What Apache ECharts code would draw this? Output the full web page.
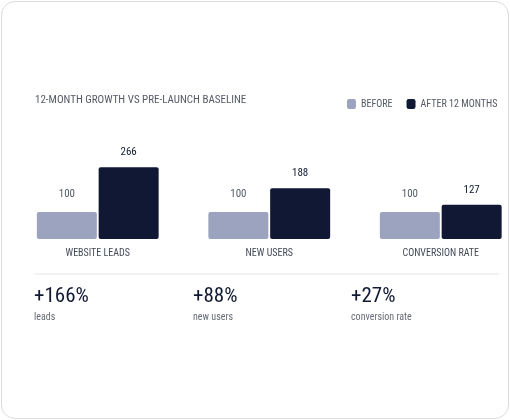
<!DOCTYPE html>
<html><head><meta charset="utf-8">
<script src="https://cdn.jsdelivr.net/npm/echarts@6/dist/echarts.min.js"></script>
<style>
html,body{margin:0;padding:0;background:#fff}
#card{position:absolute;left:1px;top:1px;width:506px;height:416px;border:1px solid #dcdce0;border-radius:14px;overflow:hidden}
#chart{width:560px;height:420px;position:absolute;left:-2px;top:-2px}
</style></head>
<body><div id="card"><div id="chart"></div></div>
<script>
var categories = ['WEBSITE LEADS', 'NEW USERS', 'CONVERSION RATE'];
var before = [100, 100, 100];
var after = [266, 188, 127];
var stats = ['+166%', '+88%', '+27%'];
var statLabels = ['leads', 'new users', 'conversion rate'];

var font = '"Roboto Condensed", "Roboto", sans-serif';
var el = document.getElementById('chart');
var chart = echarts.init(el);

var graphics = [
    { type: 'text', left: 35, top: 95, style: { text: '12-MONTH GROWTH VS PRE-LAUNCH BASELINE', fill: '#555a66', font: '11px ' + font } },
    { type: 'line', shape: { x1: 35, y1: 274, x2: 499, y2: 274 }, style: { stroke: '#ececef', lineWidth: 1.5 } }
];
var statX = [34, 193, 351];
stats.forEach(function (s, i) {
    graphics.push({ type: 'text', left: statX[i], top: 286, style: { text: s, fill: '#111a33', font: '21px ' + font } });
    graphics.push({ type: 'text', left: statX[i], top: 312, style: { text: statLabels[i], fill: '#666b77', font: '10px ' + font } });
});

chart.setOption({
    animation: false,
    textStyle: { fontFamily: font },
    legend: {
        left: 342, top: 94, itemWidth: 9, itemHeight: 10, itemGap: 14,
        icon: 'roundRect',
        textStyle: { color: '#555a66', fontSize: 10, fontFamily: font },
        data: ['BEFORE', 'AFTER 12 MONTHS']
    },
    grid: { left: 12, top: 152, width: 514.5, height: 87 },
    xAxis: {
        type: 'category', data: categories,
        axisLine: { show: false }, axisTick: { show: false },
        axisLabel: { color: '#444a57', fontSize: 10, margin: 9, fontFamily: font }
    },
    yAxis: { type: 'value', min: 0, max: 322, show: false, splitLine: { show: false } },
    series: [
        { name: 'BEFORE', type: 'bar', data: before, barWidth: 60, barGap: '3%',
          itemStyle: { color: '#9ca3bf', borderRadius: 2 },
          label: { show: true, position: 'top', distance: 12, color: '#555a66', fontSize: 11, fontFamily: font } },
        { name: 'AFTER 12 MONTHS', type: 'bar', data: after, barWidth: 60,
          itemStyle: { color: '#111834', borderRadius: 2 },
          label: { show: true, position: 'top', distance: 9, color: '#111a33', fontSize: 11, fontFamily: font } }
    ],
    graphic: graphics
});
</script></body></html>
